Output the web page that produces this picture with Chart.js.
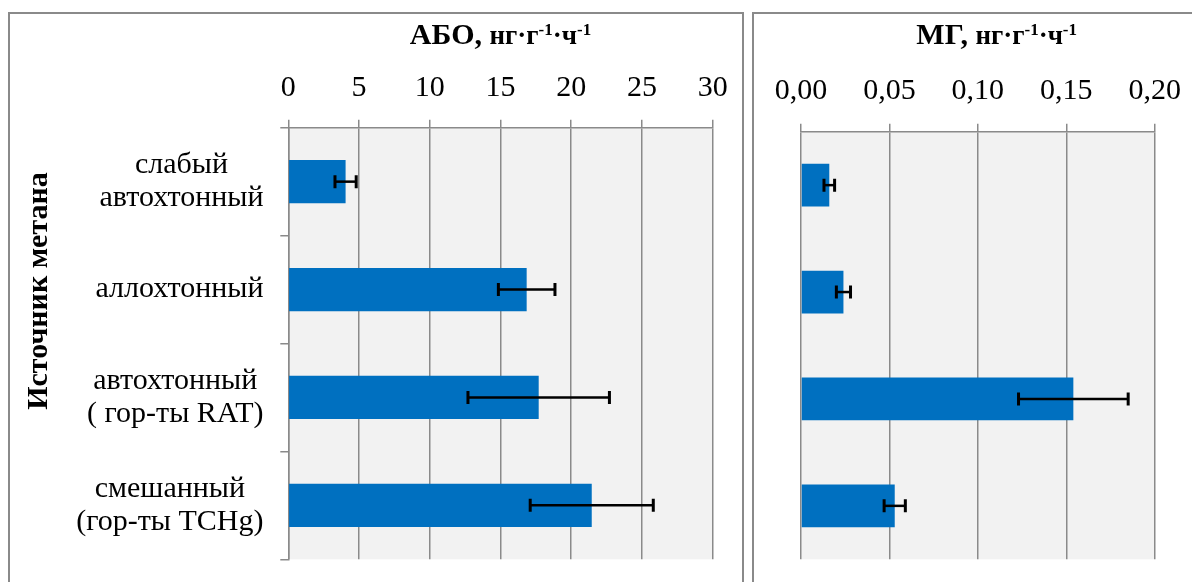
<!DOCTYPE html>
<html>
<head>
<meta charset="utf-8">
<script src="https://cdn.jsdelivr.net/npm/chart.js@4/dist/chart.umd.min.js"></script>
<style>
  html, body { margin: 0; padding: 0; background: #fff; }
  body { width: 1192px; height: 582px; position: relative; overflow: hidden; }
  .panel { position: absolute; border: 2px solid #8a8a8a; box-sizing: border-box; background: #fff; }
  #panelAbo { left: 8px; top: 12px; width: 736px; height: 620px; }
  #panelMg { left: 752px; top: 12px; width: 520px; height: 620px; }
  .box { position: absolute; top: 0; height: 582px; }
  #boxAbo { left: 0; width: 745px; }
  #boxMg { left: 745px; width: 480px; }
</style>
</head>
<body>
<div class="panel" id="panelAbo"></div>
<div class="panel" id="panelMg"></div>
<div class="box" id="boxAbo"><canvas id="chartAbo"></canvas></div>
<div class="box" id="boxMg"><canvas id="chartMg"></canvas></div>
<script>
// Methane source categories (top to bottom)
const categories = [
  ['слабый', 'автохтонный'],
  ['аллохтонный'],
  ['автохтонный', '( гор-ты RAT)'],
  ['смешанный', '(гор-ты TCHg)']
];

// АБО (anaerobic methane oxidation), нг·г⁻¹·ч⁻¹
const aboValues = [4.05, 16.85, 17.7, 21.45];
const aboErrors = [0.75, 2.0, 5.0, 4.35];

// МГ (methanogenesis), нг·г⁻¹·ч⁻¹
const mgValues = [0.016, 0.024, 0.154, 0.053];
const mgErrors = [0.003, 0.004, 0.031, 0.006];

// Axis ticks
const aboTicks = [0, 5, 10, 15, 20, 25, 30];
const mgTicks = [0, 0.05, 0.10, 0.15, 0.20];

const yAxisTitle = 'Источник метана';

const SERIF = '"Liberation Serif", "Times New Roman", serif';
const BAR_COLOR = '#0070C0';
const GRID_COLOR = '#8a8a8a';
const PLOT_BG = '#f2f2f2';
const FONT_SIZE = 30;

// Fill the plotting area before grid and bars are drawn
const plotBackground = {
  id: 'plotBackground',
  beforeDraw(chart) {
    const { ctx, chartArea: a } = chart;
    ctx.save();
    ctx.fillStyle = PLOT_BG;
    ctx.fillRect(a.left, a.top, a.right - a.left, a.bottom - a.top);
    ctx.restore();
  }
};

// Symmetric error bars drawn from the value and error arrays
const errorBars = {
  id: 'errorBars',
  afterDatasetsDraw(chart, args, opts) {
    const { ctx } = chart;
    const xs = chart.scales.x, ys = chart.scales.y;
    const vals = opts.values, errs = opts.errors;
    ctx.save();
    ctx.strokeStyle = '#000';
    vals.forEach((v, i) => {
      const x0 = xs.getPixelForValue(v - errs[i]);
      const x1 = xs.getPixelForValue(v + errs[i]);
      const y = ys.getPixelForValue(i);
      ctx.lineWidth = 2.5;
      ctx.beginPath();
      ctx.moveTo(x0, y); ctx.lineTo(x1, y);
      ctx.stroke();
      ctx.lineWidth = 3;
      ctx.beginPath();
      ctx.moveTo(x0, y - 6.5); ctx.lineTo(x0, y + 6.5);
      ctx.moveTo(x1, y - 6.5); ctx.lineTo(x1, y + 6.5);
      ctx.stroke();
    });
    ctx.restore();
  }
};

// Axis title with superscript unit exponents
const unitTitle = {
  id: 'unitTitle',
  afterDraw(chart, args, opts) {
    const { ctx } = chart;
    const parts = [
      { t: opts.head, size: 30, rise: 0 },
      { t: 'нг·г', size: 27, rise: 0 },
      { t: '-1', size: 17, rise: 9 },
      { t: '·ч', size: 27, rise: 0 },
      { t: '-1', size: 17, rise: 9 }
    ];
    ctx.save();
    ctx.fillStyle = '#000';
    ctx.textBaseline = 'alphabetic';
    ctx.textAlign = 'left';
    let total = 0;
    parts.forEach(p => {
      ctx.font = 'bold ' + p.size + 'px ' + SERIF;
      p.w = ctx.measureText(p.t).width;
      total += p.w;
    });
    let x = opts.cx - total / 2;
    parts.forEach(p => {
      ctx.font = 'bold ' + p.size + 'px ' + SERIF;
      ctx.fillText(p.t, x, opts.baseline - p.rise);
      x += p.w;
    });
    ctx.restore();
  }
};

// Category labels: each block right-aligned, its lines centred within the block
const categoryLabels = {
  id: 'categoryLabels',
  afterDraw(chart, args, opts) {
    const { ctx } = chart;
    const ys = chart.scales.y;
    ctx.save();
    ctx.fillStyle = '#000';
    ctx.font = FONT_SIZE + 'px ' + SERIF;
    ctx.textAlign = 'center';
    ctx.textBaseline = 'middle';
    categories.forEach((lines, i) => {
      const w = Math.max(...lines.map(l => ctx.measureText(l).width));
      const cx = opts.right - w / 2;
      const cy = ys.getPixelForValue(i);
      lines.forEach((l, j) => {
        ctx.fillText(l, cx, cy + (j - (lines.length - 1) / 2) * 33.4);
      });
    });
    // rotated axis title
    ctx.font = 'bold ' + FONT_SIZE + 'px ' + SERIF;
    ctx.translate(opts.titleX, opts.titleY);
    ctx.rotate(-Math.PI / 2);
    ctx.fillText(yAxisTitle, 0, 0);
    ctx.restore();
  }
};

function xScale(min, max, ticks, fmt, height, pad) {
  return {
    position: 'top',
    min: min, max: max,
    afterBuildTicks: s => { s.ticks = ticks.map(v => ({ value: v })); },
    afterFit: s => { s.height = height; },
    grid: { color: GRID_COLOR, lineWidth: 1.5, tickLength: 8, drawTicks: true },
    border: { color: GRID_COLOR, width: 1.5 },
    ticks: {
      color: '#000', padding: pad, maxRotation: 0, autoSkip: false,
      font: { family: SERIF, size: FONT_SIZE },
      callback: v => fmt(v)
    }
  };
}

new Chart(document.getElementById('chartAbo'), {
  type: 'bar',
  data: {
    labels: categories,
    datasets: [{ data: aboValues, backgroundColor: BAR_COLOR, barPercentage: 0.4, categoryPercentage: 1 }]
  },
  options: {
    indexAxis: 'y',
    responsive: true, maintainAspectRatio: false, animation: false,
    layout: { padding: { left: 0, top: 0, right: 32.3, bottom: 22.7 } },
    plugins: {
      legend: { display: false }, tooltip: { enabled: false },
      errorBars: { values: aboValues, errors: aboErrors },
      unitTitle: { head: 'АБО, ', cx: 500.5, baseline: 43.5 },
      categoryLabels: { right: 263.5, titleX: 39.5, titleY: 291 }
    },
    scales: {
      x: xScale(0, 30, aboTicks, v => String(v), 127.7, 14),
      y: {
        afterFit: s => { s.width = 288.3; },
        grid: { drawOnChartArea: false, drawTicks: true, tickLength: 8, color: GRID_COLOR, lineWidth: 1.5 },
        border: { color: GRID_COLOR, width: 1.5 },
        ticks: { display: false }
      }
    }
  },
  plugins: [plotBackground, errorBars, unitTitle, categoryLabels]
});

new Chart(document.getElementById('chartMg'), {
  type: 'bar',
  data: {
    labels: categories,
    datasets: [{ data: mgValues, backgroundColor: BAR_COLOR, barPercentage: 0.4, categoryPercentage: 1 }]
  },
  options: {
    indexAxis: 'y',
    responsive: true, maintainAspectRatio: false, animation: false,
    layout: { padding: { left: 56, top: 0, right: 70.3, bottom: 22.7 } },
    plugins: {
      legend: { display: false }, tooltip: { enabled: false },
      errorBars: { values: mgValues, errors: mgErrors },
      unitTitle: { head: 'МГ, ', cx: 251.7, baseline: 43.5 }
    },
    scales: {
      x: xScale(0, 0.2, mgTicks, v => v.toFixed(2).replace('.', ','), 131.7, 15),
      y: { display: false }
    }
  },
  plugins: [plotBackground, errorBars, unitTitle]
});
</script>
</body>
</html>
